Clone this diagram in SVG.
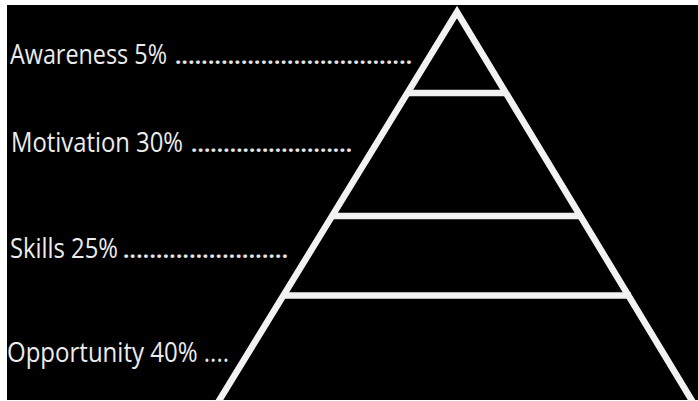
<svg xmlns="http://www.w3.org/2000/svg" width="698" height="401" viewBox="0 0 698 401">
  <style>
    .lbl { font-family: "Open Sans", "Noto Sans", "DejaVu Sans", sans-serif; font-size: 27px; fill: #ececec; }
    .dots { font-size: 22px; font-weight: bold; fill: #e4e4e4; }
    .edge { stroke: #f2f2f2; stroke-width: 6.5; fill: none; stroke-linejoin: miter; }
  </style>
  <rect x="0" y="0" width="698" height="401" fill="#ffffff"/>
  <rect x="7" y="5" width="691" height="395" fill="#000000"/>

  <g id="pyramid">
    <polyline class="edge" points="217,404 457,12 694,404"/>
  </g>

  <g id="connectors">
    <line class="edge" x1="407" y1="93" x2="507" y2="93"/>
    <line class="edge" x1="331" y1="216" x2="582" y2="216"/>
    <line class="edge" x1="282" y1="295.5" x2="631" y2="295.5"/>
  </g>

  <g id="awareness">
    <text class="lbl" y="64"><tspan x="10" textLength="157" lengthAdjust="spacingAndGlyphs">Awareness 5%</tspan><tspan class="dots" x="175" textLength="237" lengthAdjust="spacing">....................................</tspan></text>
  </g>

  <g id="motivation">
    <text class="lbl" y="152"><tspan x="11" textLength="172" lengthAdjust="spacingAndGlyphs">Motivation 30%</tspan><tspan class="dots" x="191" textLength="161" lengthAdjust="spacing">.........................</tspan></text>
  </g>

  <g id="skills">
    <text class="lbl" y="258"><tspan x="10" textLength="108" lengthAdjust="spacingAndGlyphs">Skills 25%</tspan><tspan class="dots" x="123" textLength="165" lengthAdjust="spacing">.........................</tspan></text>
  </g>

  <g id="opportunity">
    <text class="lbl" x="7" y="362" textLength="222" lengthAdjust="spacingAndGlyphs">Opportunity 40% ....</text>
  </g>
</svg>
